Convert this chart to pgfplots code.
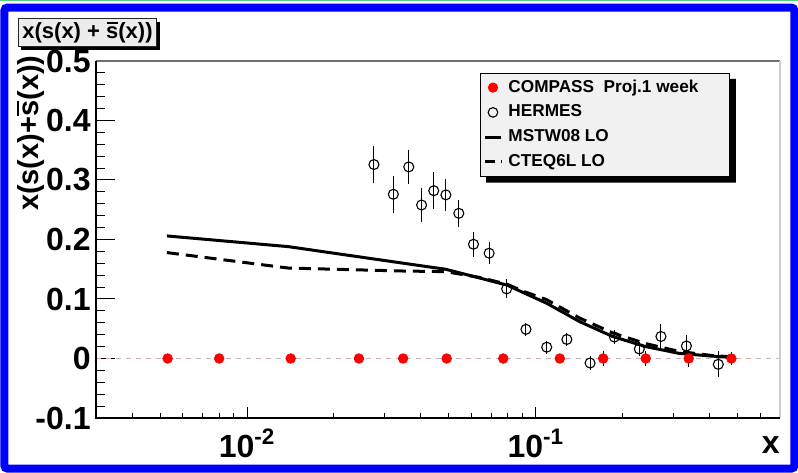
\documentclass[border=0pt]{standalone}
\usepackage{fontspec}
\setmainfont{Liberation Sans}
\usepackage{pgfplots}
\pgfplotsset{compat=1.18}
\usetikzlibrary{shadows}

\definecolor{rootred}{RGB}{255,0,0}
\definecolor{zerogray}{RGB}{200,180,180}
\definecolor{boxfill}{RGB}{241,241,241}
\definecolor{titlefill}{RGB}{236,236,236}
\definecolor{topgray}{RGB}{110,110,110}
\definecolor{rightgray}{RGB}{205,205,205}
\definecolor{topgreen}{RGB}{90,205,130}

% s with a bar over it
\newcommand\sbar{\leavevmode\rlap{\kern0.03em\rule[0.68em]{0.5em}{0.08em}}s}
\newcommand\tickfont{\fontsize{16bp}{18bp}\selectfont\bfseries}

\pgfplotstableread{
x       y        e
0.0275  0.326    0.0275
0.0321  0.276    0.0266
0.0363  0.322    0.025
0.0402  0.258    0.025
0.0443  0.282    0.027
0.0488  0.275    0.023
0.0541  0.244    0.0185
0.0608  0.192    0.017
0.0689  0.177    0.0146
0.0792  0.117    0.012
0.0924  0.049    0.007
0.109   0.019    0.007
0.128   0.032    0.007
0.154   -0.0076  0.007
0.187   0.036    0.008
0.228   0.016    0.008
0.271   0.037    0.017
0.332   0.021    0.015
0.428   -0.0098  0.018
}\hermes

\pgfplotstableread{
x        y   e
0.00531  0   0.002
0.00801  0   0.002
0.01416  0   0.002
0.0244   0   0.002
0.0347   0   0.002
0.0491   0   0.002
0.0771   0   0.003
0.121    0   0.004
0.171    0   0.009
0.240    0   0.009
0.338    0   0.010
0.475    0   0.007
}\compass

\begin{document}
\begin{tikzpicture}[x=1bp,y=1bp]
\useasboundingbox (0,0) rectangle (399,236.5);
\fill[white] (0,0) rectangle (399,236.5);
\draw[topgreen, line width=0.7bp] (0,236.15) -- (399,236.15);
\draw[blue, line width=4bp, rounded corners=1.5bp] (2.2,2.2) rectangle (397.2,232.7);

% title box
\node[draw=black!85, fill=titlefill, line width=0.5bp, minimum width=69.2bp,
  minimum height=13.9bp, inner sep=0pt,
  drop shadow={shadow xshift=1.5bp, shadow yshift=-1.5bp, fill=black, opacity=1},
  font=\fontsize{11bp}{12bp}\selectfont\bfseries] at (43.75,220.1) {x(s(x) + \sbar(x))};

% x ticks (short ticks, bottom only)
\begin{axis}[
  at={(48bp,27.5bp)}, anchor=south west,
  scale only axis, width=342bp, height=178.5bp,
  xmode=log, xmin=0.003, xmax=0.7, ymin=-0.1, ymax=0.5,
  axis line style={draw=none},
  ytick=\empty, tick pos=left, tick align=inside,
  xtick={0.01,0.1},
  xticklabels={10\textsuperscript{-2},10\textsuperscript{-1}},
  minor xtick={0.004,0.005,0.006,0.007,0.008,0.009,0.02,0.03,0.04,0.05,0.06,0.07,0.08,0.09,0.2,0.3,0.4,0.5,0.6},
  major tick length=5.5bp, minor tick length=2.6bp,
  every tick/.style={black, line width=0.5bp},
  xticklabel style={font=\tickfont, anchor=base, yshift=-19.5bp, inner sep=0pt},
  xlabel={x},
  xlabel style={at={(rel axis cs:1,-0.1008)}, anchor=base east, inner sep=0pt, font=\tickfont},
]
\end{axis}

\begin{axis}[
  at={(48bp,27.5bp)}, anchor=south west,
  scale only axis, width=342bp, height=178.5bp,
  xmode=log, xmin=0.003, xmax=0.7, ymin=-0.1, ymax=0.5,
  axis line style={draw=none},
  xtick=\empty, minor xtick={},
  tick pos=left, tick align=inside,
  ytick={-0.1,0,0.1,0.2,0.3,0.4,0.5},
  yticklabels={-0.1,0,0.1,0.2,0.3,0.4,0.5},
  minor y tick num=4,
  major tick length=9.5bp, minor tick length=4.5bp,
  every tick/.style={black, line width=0.5bp},
  yticklabel style={font=\tickfont, inner sep=0pt, xshift=-2.5bp},
  ylabel={x(s(x)+\sbar(x))},
  ylabel style={at={(rel axis cs:-0.0746,1.0168)}, anchor=south east, inner sep=0pt,
    font=\fontsize{14.5bp}{16bp}\selectfont\bfseries},
  legend style={name=leg, at={(rel axis cs:0.5614,0.9664)}, anchor=north west,
    draw=black, line width=0.5bp, fill=boxfill,
    inner xsep=1.5bp, inner ysep=2bp, row sep=2.3bp, column sep=1.5bp,
    font=\fontsize{8.6bp}{9bp}\selectfont\bfseries,
    nodes={inner sep=1bp, text height=6.3bp, text depth=1.8bp}},
  legend cell align=left, reverse legend,
  after end axis/.code={
    \draw[topgray, line width=0.6bp] (rel axis cs:0,1) -- (rel axis cs:1,1);
    \draw[rightgray, line width=0.6bp] (rel axis cs:1,1) -- (rel axis cs:1,0);
    \draw[black, line width=0.7bp] (rel axis cs:0,1) -- (rel axis cs:0,0) -- (rel axis cs:1,0);
  },
]
\addplot[zerogray, line width=0.5bp, dash pattern=on 2.5bp off 2.5bp, forget plot]
  coordinates {(0.003,0) (0.7,0)};

\addplot[black, line width=1.5bp, dash pattern=on 6bp off 3.5bp,
  legend image code/.code={\draw[black, line width=1.5bp, dash pattern=on 5bp off 3bp] (0,0) -- (8.5bp,0);}]
  coordinates {
  (0.00528,0.178) (0.0139,0.152) (0.0349,0.147) (0.0487,0.146) (0.0642,0.136)
  (0.0793,0.125) (0.0904,0.113) (0.1088,0.099) (0.1417,0.068) (0.1844,0.043)
  (0.240,0.025) (0.3126,0.012) (0.4066,0.005) (0.470,0.003)};
\addlegendentry{CTEQ6L LO}

\addplot[black, line width=1.5bp,
  legend image code/.code={\draw[black, line width=1.5bp] (0,0) -- (8bp,0);}]
  coordinates {
  (0.00528,0.206) (0.0139,0.188) (0.0349,0.160) (0.0487,0.150) (0.0642,0.135)
  (0.0756,0.126) (0.0793,0.1235) (0.1088,0.093) (0.1417,0.062) (0.1844,0.037)
  (0.240,0.020) (0.3126,0.0087) (0.4066,0.004) (0.470,0.002)};
\addlegendentry{MSTW08 LO}

% error bars, drawn without marks
\addplot[draw=none, mark=none, forget plot,
  error bars/.cd, y dir=both, y explicit, error mark=-,
  error mark options={mark size=1.2bp, line width=0.5bp, black},
  error bar style={line width=0.5bp, black}]
  table[x=x, y=y, y error=e] {\hermes};
\addplot[draw=none, mark=none, forget plot,
  error bars/.cd, y dir=both, y explicit, error mark=-,
  error mark options={mark size=1.2bp, line width=0.5bp, black},
  error bar style={line width=0.5bp, black}]
  table[x=x, y=y, y error=e] {\compass};

\addplot[only marks, mark=o, mark size=2.5bp, black, mark options={line width=0.55bp},
  legend image code/.code={\draw[black, line width=0.55bp] (4bp,0) circle (2.4bp);}]
  table[x=x, y=y] {\hermes};
\addlegendentry{HERMES}

\addplot[only marks, mark=*, mark size=2.4bp, rootred,
  legend image code/.code={\fill[rootred] (4bp,0) circle (2.3bp);}]
  table[x=x, y=y] {\compass};
\addlegendentry{COMPASS\ \ Proj.1 week\hspace*{13bp}}
\end{axis}

% legend shadow (right and bottom strips)
\fill[black] ([yshift=-3bp]leg.north east) -- ([xshift=3bp,yshift=-3bp]leg.north east)
  -- ([xshift=3bp,yshift=-3bp]leg.south east) -- ([xshift=3bp,yshift=-3bp]leg.south west)
  -- ([xshift=3bp]leg.south west) -- (leg.south east) -- cycle;
\end{tikzpicture}
\end{document}
